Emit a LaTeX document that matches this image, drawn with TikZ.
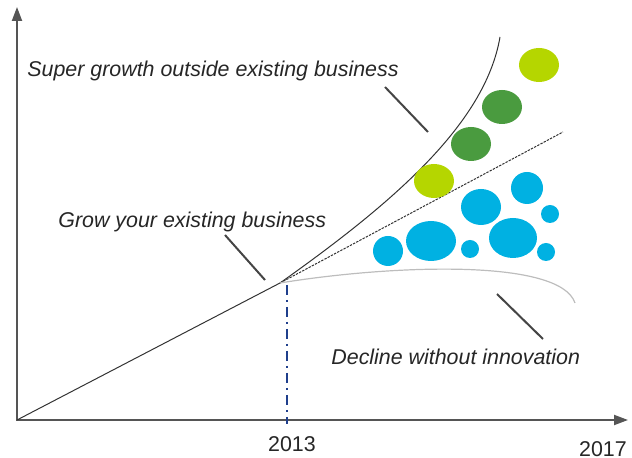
\documentclass[tikz,border=0pt]{standalone}
\usepackage{fontspec}
\setmainfont{Liberation Sans}
\usetikzlibrary{arrows.meta}

\definecolor{axisgray}{HTML}{555555}
\definecolor{leadgray}{HTML}{454545}
\definecolor{textgray}{HTML}{262626}
\definecolor{fadegray}{HTML}{BDBDBD}
\definecolor{yearblue}{HTML}{1F3F8C}
\definecolor{limegreen}{HTML}{B5D600}
\definecolor{leafgreen}{HTML}{4A9B3F}
\definecolor{skyblue}{HTML}{00B1E2}

\begin{document}
\begin{tikzpicture}[x=0.5pt, y=-0.5pt,
    axis/.style={draw=axisgray, line width=1pt, line join=miter},
    trend/.style={draw=black!80, line width=0.5pt},
    leader/.style={draw=leadgray, line width=1pt},
    remark/.style={font=\fontsize{10.7}{13}\selectfont\itshape, text=textgray, inner sep=0pt, anchor=west},
    year/.style={font=\fontsize{10.7}{13}\selectfont, text=textgray, inner sep=0pt}]
\useasboundingbox (0,0) rectangle (632,458);

% axes
\coordinate (o) at (17,420);
\coordinate (ytop) at (17,7);
\coordinate (xend) at (628,420);
\draw[axis, {Triangle[length=7pt,width=5pt]}-{Triangle[length=7pt,width=5pt]}] (ytop) |- (xend);

% trend lines, splitting at 2013
\coordinate (split) at (280,283);
\draw[trend] (o) -- (split);
\draw[trend] (split) .. controls (390,205) and (485,125) .. (500,37);
\draw[trend, dash pattern=on 1.2pt off 0.6pt] (split) -- (563,132);
\draw[draw=fadegray, line width=0.6pt] (split) .. controls (390,265) and (560,258) .. (575,303);

% 2013 marker
\draw[yearblue, line width=1pt, dash pattern=on 5pt off 2.5pt on 1pt off 2.5pt] (287,285) -- (287,424);

% innovation bubbles
\fill[limegreen] (539,65) ellipse [x radius=20, y radius=17];
\fill[leafgreen] (502,107) ellipse [x radius=20, y radius=17];
\fill[leafgreen] (471,144) ellipse [x radius=20, y radius=17];
\fill[limegreen] (434,181) ellipse [x radius=20, y radius=17];
\fill[skyblue] (527,188) ellipse [x radius=16, y radius=16];
\fill[skyblue] (481,207) ellipse [x radius=20, y radius=18];
\fill[skyblue] (550,214) ellipse [x radius=9, y radius=9];
\fill[skyblue] (388,251) ellipse [x radius=15, y radius=15];
\fill[skyblue] (431,241) ellipse [x radius=25, y radius=20];
\fill[skyblue] (470,249) ellipse [x radius=9, y radius=9];
\fill[skyblue] (513,238) ellipse [x radius=24, y radius=20];
\fill[skyblue] (546,252) ellipse [x radius=9, y radius=9];

% labels
\node[remark] (super) at (27,71) {Super growth outside existing business};
\node[remark] (grow) at (58,222) {Grow your existing business};
\node[remark] (decline) at (331,357) {Decline without innovation};
\node[year] (y13) at (292,444) {2013};
\node[year] (y17) at (603,449) {2017};

% leader lines
\coordinate (superA) at (385,87);
\coordinate (superB) at (428,132);
\coordinate (growA) at (225,235);
\coordinate (growB) at (265,280);
\coordinate (declA) at (497,294);
\coordinate (declB) at (543,339);
\draw[leader] (superA) -- (superB);
\draw[leader] (growA) -- (growB);
\draw[leader] (declA) -- (declB);
\end{tikzpicture}
\end{document}
